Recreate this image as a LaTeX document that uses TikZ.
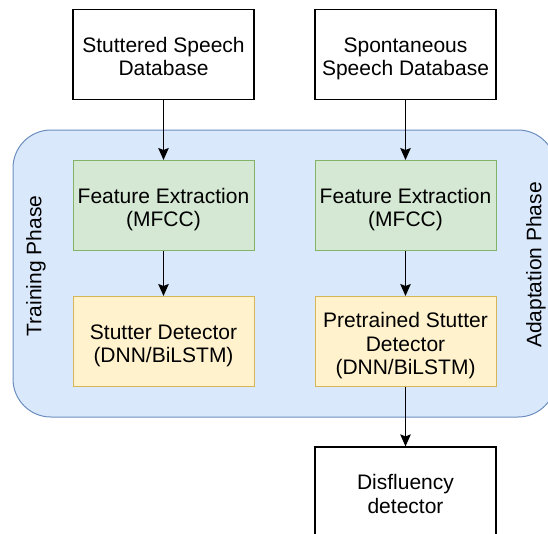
\documentclass[tikz,border=0pt]{standalone}
\usepackage{fontspec}
\setmainfont{Liberation Sans}
\usetikzlibrary{arrows.meta}
\definecolor{phasefill}{HTML}{DAE8FC}
\definecolor{phaseline}{HTML}{6C8EBF}
\definecolor{featfill}{HTML}{D5E8D4}
\definecolor{featline}{HTML}{82B366}
\definecolor{detfill}{HTML}{FFF2CC}
\definecolor{detline}{HTML}{D6B656}
% fixed room above the first and below the last line of a box label
\newcommand{\topgap}{\rule{0pt}{24pt}}
\newcommand{\botgap}{\rule[-5pt]{0pt}{5pt}}

\begin{document}
\begin{tikzpicture}[x=1pt,y=-1pt]
    \tikzset{font={\fontsize{21pt}{23.8pt}\selectfont},
      box/.style={draw,line width=1.2pt,minimum width=181pt,minimum height=90pt,align=center,inner sep=0pt},
      feat/.style={box,fill=featfill,draw=featline,line width=1pt},
      det/.style={box,fill=detfill,draw=detline,line width=1pt},
      flow/.style={-{Stealth[length=12pt,width=10.5pt,inset=2pt]},line width=1.2pt}}
    \clip (0,0) rectangle (548,533);
    % phase panel, runs off the right edge
    \filldraw[fill=phasefill,draw=phaseline,line width=1pt,rounded corners=38pt]
      (13,130) rectangle (556,417);
    \node[rotate=90] (trainlbl) at (36,266) {Training Phase};
    \node[rotate=90] (adaptlbl) at (536,265) {Adaptation Phase};
    % left column
    \node[box] (stutdb) at (163.5,54.5) {\topgap Stuttered Speech\\Database\botgap};
    \node[feat] (featL) at (163.5,205.5) {\topgap Feature Extraction\\(MFCC)\botgap};
    \node[det] (detL) at (163.5,341.5) {\topgap Stutter Detector\\(DNN/BiLSTM)\botgap};
    % right column
    \node[box] (spontdb) at (405.5,54.5) {\topgap Spontaneous\\Speech Database\botgap};
    \node[feat] (featR) at (405.5,205.5) {\topgap Feature Extraction\\(MFCC)\botgap};
    \node[det] (detR) at (405.5,341.5) {\topgap Pretrained Stutter\\Detector\\(DNN/BiLSTM)\botgap};
    \node[box] (disfl) at (405.5,492) {\topgap Disfluency\\detector\botgap};
    \draw[flow] (stutdb) -- (featL);
    \draw[flow] (featL) -- (detL);
    \draw[flow] (spontdb) -- (featR);
    \draw[flow] (featR) -- (detR);
    \draw[flow] (detR) -- (disfl);
\end{tikzpicture}
\end{document}
